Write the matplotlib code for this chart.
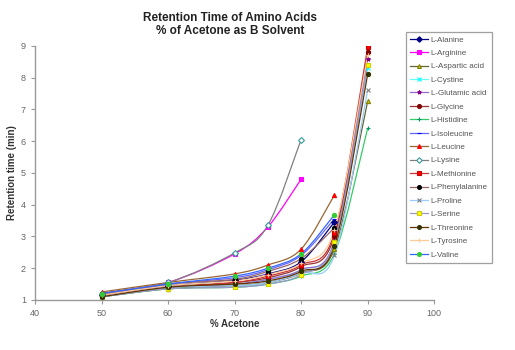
import matplotlib
matplotlib.use("Agg")
import matplotlib.pyplot as plt
from matplotlib.path import Path
from matplotlib.patches import PathPatch
from matplotlib.lines import Line2D

plt.rcParams['font.family'] = ['Liberation Sans', 'DejaVu Sans']

acetone = [50, 60, 70, 75, 80, 85, 90]

names = ["L-Alanine", "L-Arginine", "L-Aspartic acid", "L-Cystine", "L-Glutamic acid",
         "L-Glycine", "L-Histidine", "L-Isoleucine", "L-Leucine", "L-Lysine",
         "L-Methionine", "L-Phenylalanine", "L-Proline", "L-Serine", "L-Threonine",
         "L-Tyrosine", "L-Valine"]

alanine = [1.15, 1.45, 1.62, 1.82, 2.2, 3.45]
arginine = [1.2, 1.55, 2.45, 3.3, 4.8]
aspartic = [1.1, 1.35, 1.45, 1.55, 1.85, 2.6, 7.25]
cystine = [1.15, 1.4, 1.5, 1.65, 1.95, 2.8, 8.3]
glutamic = [1.15, 1.4, 1.5, 1.65, 1.95, 2.85, 8.6]
glycine = [1.15, 1.4, 1.55, 1.7, 2.05, 3.0, 8.8]
histidine = [1.1, 1.35, 1.4, 1.5, 1.75, 2.45, 6.4]
isoleucine = [1.2, 1.5, 1.7, 1.95, 2.4, 3.55]
leucine = [1.25, 1.55, 1.82, 2.1, 2.6, 4.3]
lysine = [1.2, 1.55, 2.48, 3.35, 6.05]
methionine = [1.15, 1.4, 1.55, 1.75, 2.1, 3.1, 8.95]
phenylalanine = [1.2, 1.5, 1.65, 1.9, 2.3, 3.27]
proline = [1.1, 1.4, 1.45, 1.55, 1.85, 2.4, 7.6]
serine = [1.1, 1.35, 1.4, 1.5, 1.8, 2.83, 8.4]
threonine = [1.1, 1.4, 1.5, 1.6, 1.9, 2.7, 8.1]
tyrosine = [1.15, 1.45, 1.6, 1.8, 2.15, 3.2, 8.7]
valine = [1.2, 1.5, 1.75, 2.0, 2.45, 3.68]

series = [alanine, arginine, aspartic, cystine, glutamic, glycine, histidine,
          isoleucine, leucine, lysine, methionine, phenylalanine, proline, serine,
          threonine, tyrosine, valine]

# (line color, marker, marker face, marker edge)
styles = [
    ("#000080", "D", "#000080", "#000080"),
    ("#FF00FF", "s", "#FF00FF", "#FF00FF"),
    ("#666633", "^", "#CCCC00", "#808000"),
    ("#66FFFF", "x", "#00FFFF", "#00FFFF"),
    ("#9966CC", "*", "#800080", "#800080"),
    ("#993333", "o", "#800000", "#800000"),
    ("#33CC66", "+", "#009966", "#009966"),
    ("#6666FF", "_", "#0000FF", "#0000FF"),
    ("#996633", "^", "#FF0000", "#FF0000"),
    ("#808080", "D", "white", "#339999"),
    ("#CC3333", "s", "#FF0000", "#CC0000"),
    ("#996666", "o", "#000000", "#000000"),
    ("#99CCFF", "x", "#808080", "#808080"),
    ("#9999CC", "s", "#FFFF00", "#CCCC00"),
    ("#663300", "o", "#333300", "#333300"),
    ("#FFCC99", "+", "#FFCC99", "#FFCC99"),
    ("#3366FF", "o", "#33CC33", "#33CC33"),
]


def smooth_path(xs, ys):
    """Excel-style smoothed line: cubic Bezier segments (Catmull-Rom control points)."""
    pts = list(zip(xs, ys))
    n = len(pts)
    verts = [pts[0]]
    codes = [Path.MOVETO]
    for i in range(n - 1):
        p0 = pts[i - 1] if i > 0 else pts[i]
        p1 = pts[i]
        p2 = pts[i + 1]
        p3 = pts[i + 2] if i + 2 < n else pts[i + 1]
        c1 = (p1[0] + (p2[0] - p0[0]) / 6.0, p1[1] + (p2[1] - p0[1]) / 6.0)
        c2 = (p2[0] - (p3[0] - p1[0]) / 6.0, p2[1] - (p3[1] - p1[1]) / 6.0)
        verts += [c1, c2, p2]
        codes += [Path.CURVE4] * 3
    return Path(verts, codes)


fig = plt.figure(figsize=(5.15, 3.5), dpi=100)
ax = fig.add_axes([0.068, 0.143, 0.775, 0.726])

handles = []
for name, vals, (lc, mk, mf, me) in zip(names, series, styles):
    xs = acetone[:len(vals)]
    patch = PathPatch(smooth_path(xs, vals), facecolor="none", edgecolor=lc, lw=0.9)
    ax.add_patch(patch)
    ax.plot(xs, vals, linestyle="none", marker=mk, ms=3.0, mfc=mf, mec=me, mew=0.8)
    handles.append(Line2D([], [], color=lc, lw=0.9, marker=mk, ms=2.8, mfc=mf, mec=me,
                          mew=0.8, label=name))

ax.set_xlim(40, 100)
ax.set_ylim(1, 9)
ax.set_xticks(range(40, 101, 10))
ax.set_yticks(range(1, 10))
for s in ["top", "right"]:
    ax.spines[s].set_visible(False)
for s in ["left", "bottom"]:
    ax.spines[s].set_color("#999999")
    ax.spines[s].set_linewidth(1.0)
ax.tick_params(axis="both", labelsize=6.5, colors="#999999", labelcolor="#666666",
               length=3, width=0.8)

ax.set_xlabel("% Acetone", fontsize=7, fontweight="bold", color="#333333", labelpad=1)
ax.set_ylabel("Retention time (min)", fontsize=7, fontweight="bold", color="#333333", labelpad=3)
fig.text(0.447, 0.965, "Retention Time of Amino Acids\n% of Acetone as B Solvent",
         ha="center", va="top", fontsize=8.5, fontweight="bold", color="#222222",
         linespacing=1.1)

leg = ax.legend(handles=handles, loc="upper left", bbox_to_anchor=(0.788, 0.909),
                bbox_transform=fig.transFigure,
                fontsize=5.8, frameon=True, fancybox=False, borderpad=0.5,
                labelspacing=0.72, handlelength=2.3, handletextpad=0.3, borderaxespad=0)
leg.get_frame().set_edgecolor("#888888")
leg.get_frame().set_linewidth(0.9)
for t in leg.get_texts():
    t.set_color("#555555")

fig.savefig("out.png", dpi=100)
